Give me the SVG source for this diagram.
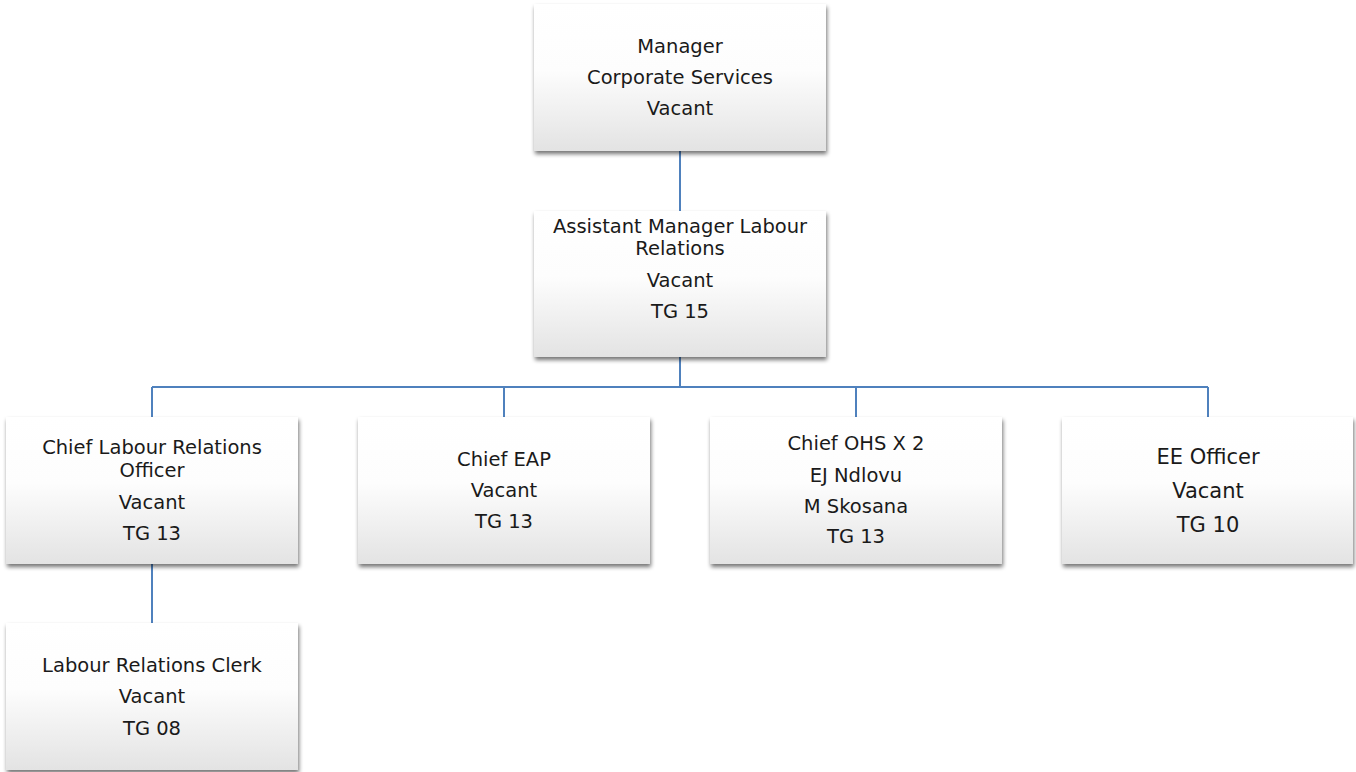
<svg xmlns="http://www.w3.org/2000/svg" width="1356" height="772" viewBox="0 0 1356 772">
  <defs>
    <linearGradient id="boxFill" x1="0" y1="0" x2="0" y2="1">
      <stop offset="0" stop-color="#ffffff"/>
      <stop offset="0.45" stop-color="#fdfdfd"/>
      <stop offset="1" stop-color="#e3e3e3"/>
    </linearGradient>
    <filter id="shadow" x="-10%" y="-10%" width="120%" height="130%">
      <feGaussianBlur in="SourceAlpha" stdDeviation="2.2"/>
      <feOffset dx="1" dy="3" result="blur"/>
      <feComponentTransfer><feFuncA type="linear" slope="0.55"/></feComponentTransfer>
      <feMerge><feMergeNode/><feMergeNode in="SourceGraphic"/></feMerge>
    </filter>
  </defs>
  <style>
    .box { fill: url(#boxFill); filter: url(#shadow); }
    .lbl { font-family: "DejaVu Sans", "Liberation Sans", sans-serif; font-size: 19.5px; fill: #1a1a1a; text-anchor: middle; }
    .big { font-size: 21px; }
    .conn { stroke: #4f81bd; stroke-width: 2; fill: none; }
  </style>
  <rect width="1356" height="772" fill="#ffffff"/>

  <g id="connectors">
    <path class="conn" d="M680 151 V211"/>
    <path class="conn" d="M680 357 V387"/>
    <path class="conn" d="M152 387 H1208"/>
    <path class="conn" d="M152 387 V417 M504 387 V417 M856 387 V417 M1208 387 V417"/>
    <path class="conn" d="M152 564 V623"/>
  </g>

  <g id="manager">
    <rect class="box" x="534" y="4" width="292" height="147"/>
    <text class="lbl" x="680" y="53">Manager</text>
    <text class="lbl" x="680" y="84">Corporate Services</text>
    <text class="lbl" x="680" y="115">Vacant</text>
  </g>

  <g id="asst-manager">
    <rect class="box" x="534" y="211" width="292" height="146"/>
    <text class="lbl" x="680" y="233">Assistant Manager Labour</text>
    <text class="lbl" x="680" y="255">Relations</text>
    <text class="lbl" x="680" y="287">Vacant</text>
    <text class="lbl" x="680" y="318">TG 15</text>
  </g>

  <g id="chief-lro">
    <rect class="box" x="6" y="417" width="292" height="147"/>
    <text class="lbl" x="152" y="454">Chief Labour Relations</text>
    <text class="lbl" x="152" y="477">Officer</text>
    <text class="lbl" x="152" y="509">Vacant</text>
    <text class="lbl" x="152" y="540">TG 13</text>
  </g>

  <g id="chief-eap">
    <rect class="box" x="358" y="417" width="292" height="147"/>
    <text class="lbl" x="504" y="466">Chief EAP</text>
    <text class="lbl" x="504" y="497">Vacant</text>
    <text class="lbl" x="504" y="528">TG 13</text>
  </g>

  <g id="chief-ohs">
    <rect class="box" x="710" y="417" width="292" height="147"/>
    <text class="lbl" x="856" y="450">Chief OHS X 2</text>
    <text class="lbl" x="856" y="482">EJ Ndlovu</text>
    <text class="lbl" x="856" y="513">M Skosana</text>
    <text class="lbl" x="856" y="543">TG 13</text>
  </g>

  <g id="ee-officer">
    <rect class="box" x="1062" y="417" width="291" height="147"/>
    <text class="lbl big" x="1208" y="464">EE Officer</text>
    <text class="lbl big" x="1208" y="498">Vacant</text>
    <text class="lbl big" x="1208" y="532">TG 10</text>
  </g>

  <g id="lr-clerk">
    <rect class="box" x="6" y="623" width="292" height="147"/>
    <text class="lbl" x="152" y="672">Labour Relations Clerk</text>
    <text class="lbl" x="152" y="703">Vacant</text>
    <text class="lbl" x="152" y="735">TG 08</text>
  </g>
</svg>
